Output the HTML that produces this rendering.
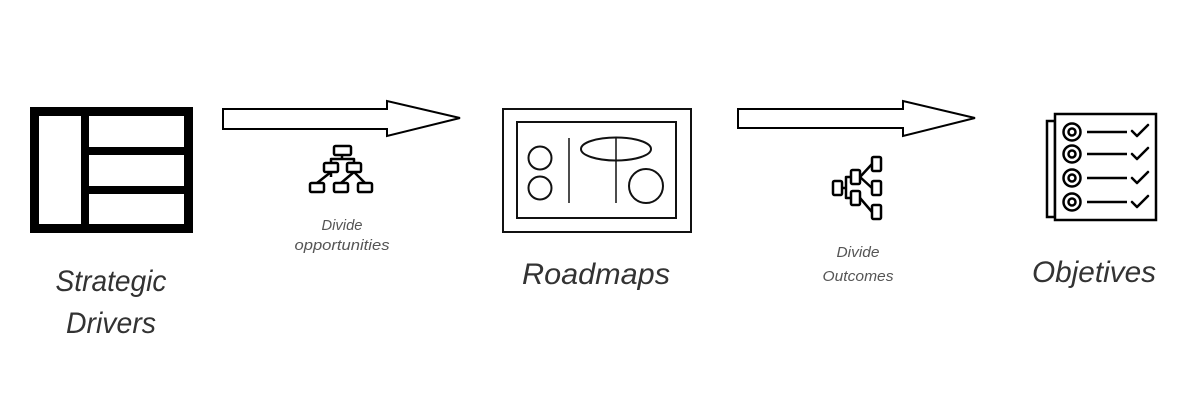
<!DOCTYPE html>
<html><head><meta charset="utf-8"><style>html,body{margin:0;padding:0;background:#fff}svg{display:block}</style></head>
<body>
<svg width="1200" height="400" viewBox="0 0 1200 400" xmlns="http://www.w3.org/2000/svg" font-family="Liberation Sans, sans-serif" font-style="italic">
<rect width="1200" height="400" fill="#fff"/>
<g fill="#000">
<rect x="30" y="107" width="163" height="9"/>
<rect x="30" y="224" width="163" height="9"/>
<rect x="30" y="107" width="9" height="126"/>
<rect x="184" y="107" width="9" height="126"/>
<rect x="81" y="107" width="8" height="126"/>
<rect x="81" y="147" width="112" height="8"/>
<rect x="81" y="186" width="112" height="8"/>
</g>
<path d="M223 109 H387 V101 L460 118 L387 136 V129 H223 Z" fill="#fff" stroke="#000" stroke-width="2"/>
<g fill="none" stroke="#000" stroke-width="2.5" stroke-linejoin="round">
<rect x="334" y="146" width="17" height="9" rx="1.5"/>
<rect x="324" y="163" width="14" height="9" rx="1.5"/>
<rect x="347" y="163" width="14" height="9" rx="1.5"/>
<rect x="310" y="183" width="14" height="9" rx="1.5"/>
<rect x="334" y="183" width="14" height="9" rx="1.5"/>
<rect x="358" y="183" width="14" height="9" rx="1.5"/>
<path d="M342 155 V159 M331 163 V159 H354 V163 M331 172 L317 183 M331 172 V177 M354 172 L341 183 M354 172 L365 183"/>
</g>
<text x="342" y="230" font-size="15" fill="#555" text-anchor="middle" textLength="41" lengthAdjust="spacingAndGlyphs">Divide</text>
<text x="342" y="250" font-size="15" fill="#555" text-anchor="middle" textLength="95" lengthAdjust="spacingAndGlyphs">opportunities</text>
<g fill="none" stroke="#111" stroke-width="2">
<rect x="503" y="109" width="188" height="123"/>
<rect x="517" y="122" width="159" height="96"/>
<circle cx="540" cy="158" r="11.5"/>
<circle cx="540" cy="188" r="11.5"/>
<line x1="569" y1="138" x2="569" y2="203" stroke-width="1.5"/>
<ellipse cx="616" cy="149" rx="35" ry="11.5"/>
<line x1="616" y1="138" x2="616" y2="203" stroke-width="1.5"/>
<circle cx="646" cy="186" r="17"/>
</g>
<path d="M738 109 H903 V101 L975 118 L903 136 V128 H738 Z" fill="#fff" stroke="#000" stroke-width="2"/>
<g fill="none" stroke="#000" stroke-width="2.5" stroke-linejoin="round">
<rect x="833" y="181" width="9" height="14" rx="1.5"/>
<rect x="851" y="170" width="9" height="14" rx="1.5"/>
<rect x="851" y="191" width="9" height="14" rx="1.5"/>
<rect x="872" y="157" width="9" height="14" rx="1.5"/>
<rect x="872" y="181" width="9" height="14" rx="1.5"/>
<rect x="872" y="205" width="9" height="14" rx="1.5"/>
<path d="M842 188 H846 V177 H851 M846 188 V198 H851 M860 177 L872 164 M860 177 L872 188 M860 198 L872 212"/>
</g>
<text x="858" y="257" font-size="15" fill="#555" text-anchor="middle" textLength="43" lengthAdjust="spacingAndGlyphs">Divide</text>
<text x="858" y="281" font-size="15" fill="#555" text-anchor="middle" textLength="71" lengthAdjust="spacingAndGlyphs">Outcomes</text>
<g fill="none" stroke="#000" stroke-width="2.5">
<rect x="1047" y="121" width="8" height="96"/>
<rect x="1055" y="114" width="101" height="106" fill="#fff"/>
<circle cx="1072" cy="132" r="8.5"/><circle cx="1072" cy="132" r="3.5"/>
<circle cx="1072" cy="154" r="8.5"/><circle cx="1072" cy="154" r="3.5"/>
<circle cx="1072" cy="178" r="8.5"/><circle cx="1072" cy="178" r="3.5"/>
<circle cx="1072" cy="202" r="8.5"/><circle cx="1072" cy="202" r="3.5"/>
<path d="M1087 132 H1127 M1087 154 H1127 M1087 178 H1127 M1087 202 H1127"/>
<path d="M1132 131 L1137 136 L1148 125 M1132 154 L1137 159 L1148 148 M1132 178 L1137 183 L1148 172 M1132 202 L1137 207 L1148 196" stroke-linecap="round" stroke-linejoin="round"/>
</g>
<text x="111" y="291" font-size="30" fill="#333" text-anchor="middle" textLength="111" lengthAdjust="spacingAndGlyphs">Strategic</text>
<text x="111" y="333" font-size="30" fill="#333" text-anchor="middle" textLength="90" lengthAdjust="spacingAndGlyphs">Drivers</text>
<text x="596" y="284" font-size="30" fill="#333" text-anchor="middle" textLength="148" lengthAdjust="spacingAndGlyphs">Roadmaps</text>
<text x="1094" y="282" font-size="30" fill="#333" text-anchor="middle" textLength="124" lengthAdjust="spacingAndGlyphs">Objetives</text>
</svg>
</body></html>
